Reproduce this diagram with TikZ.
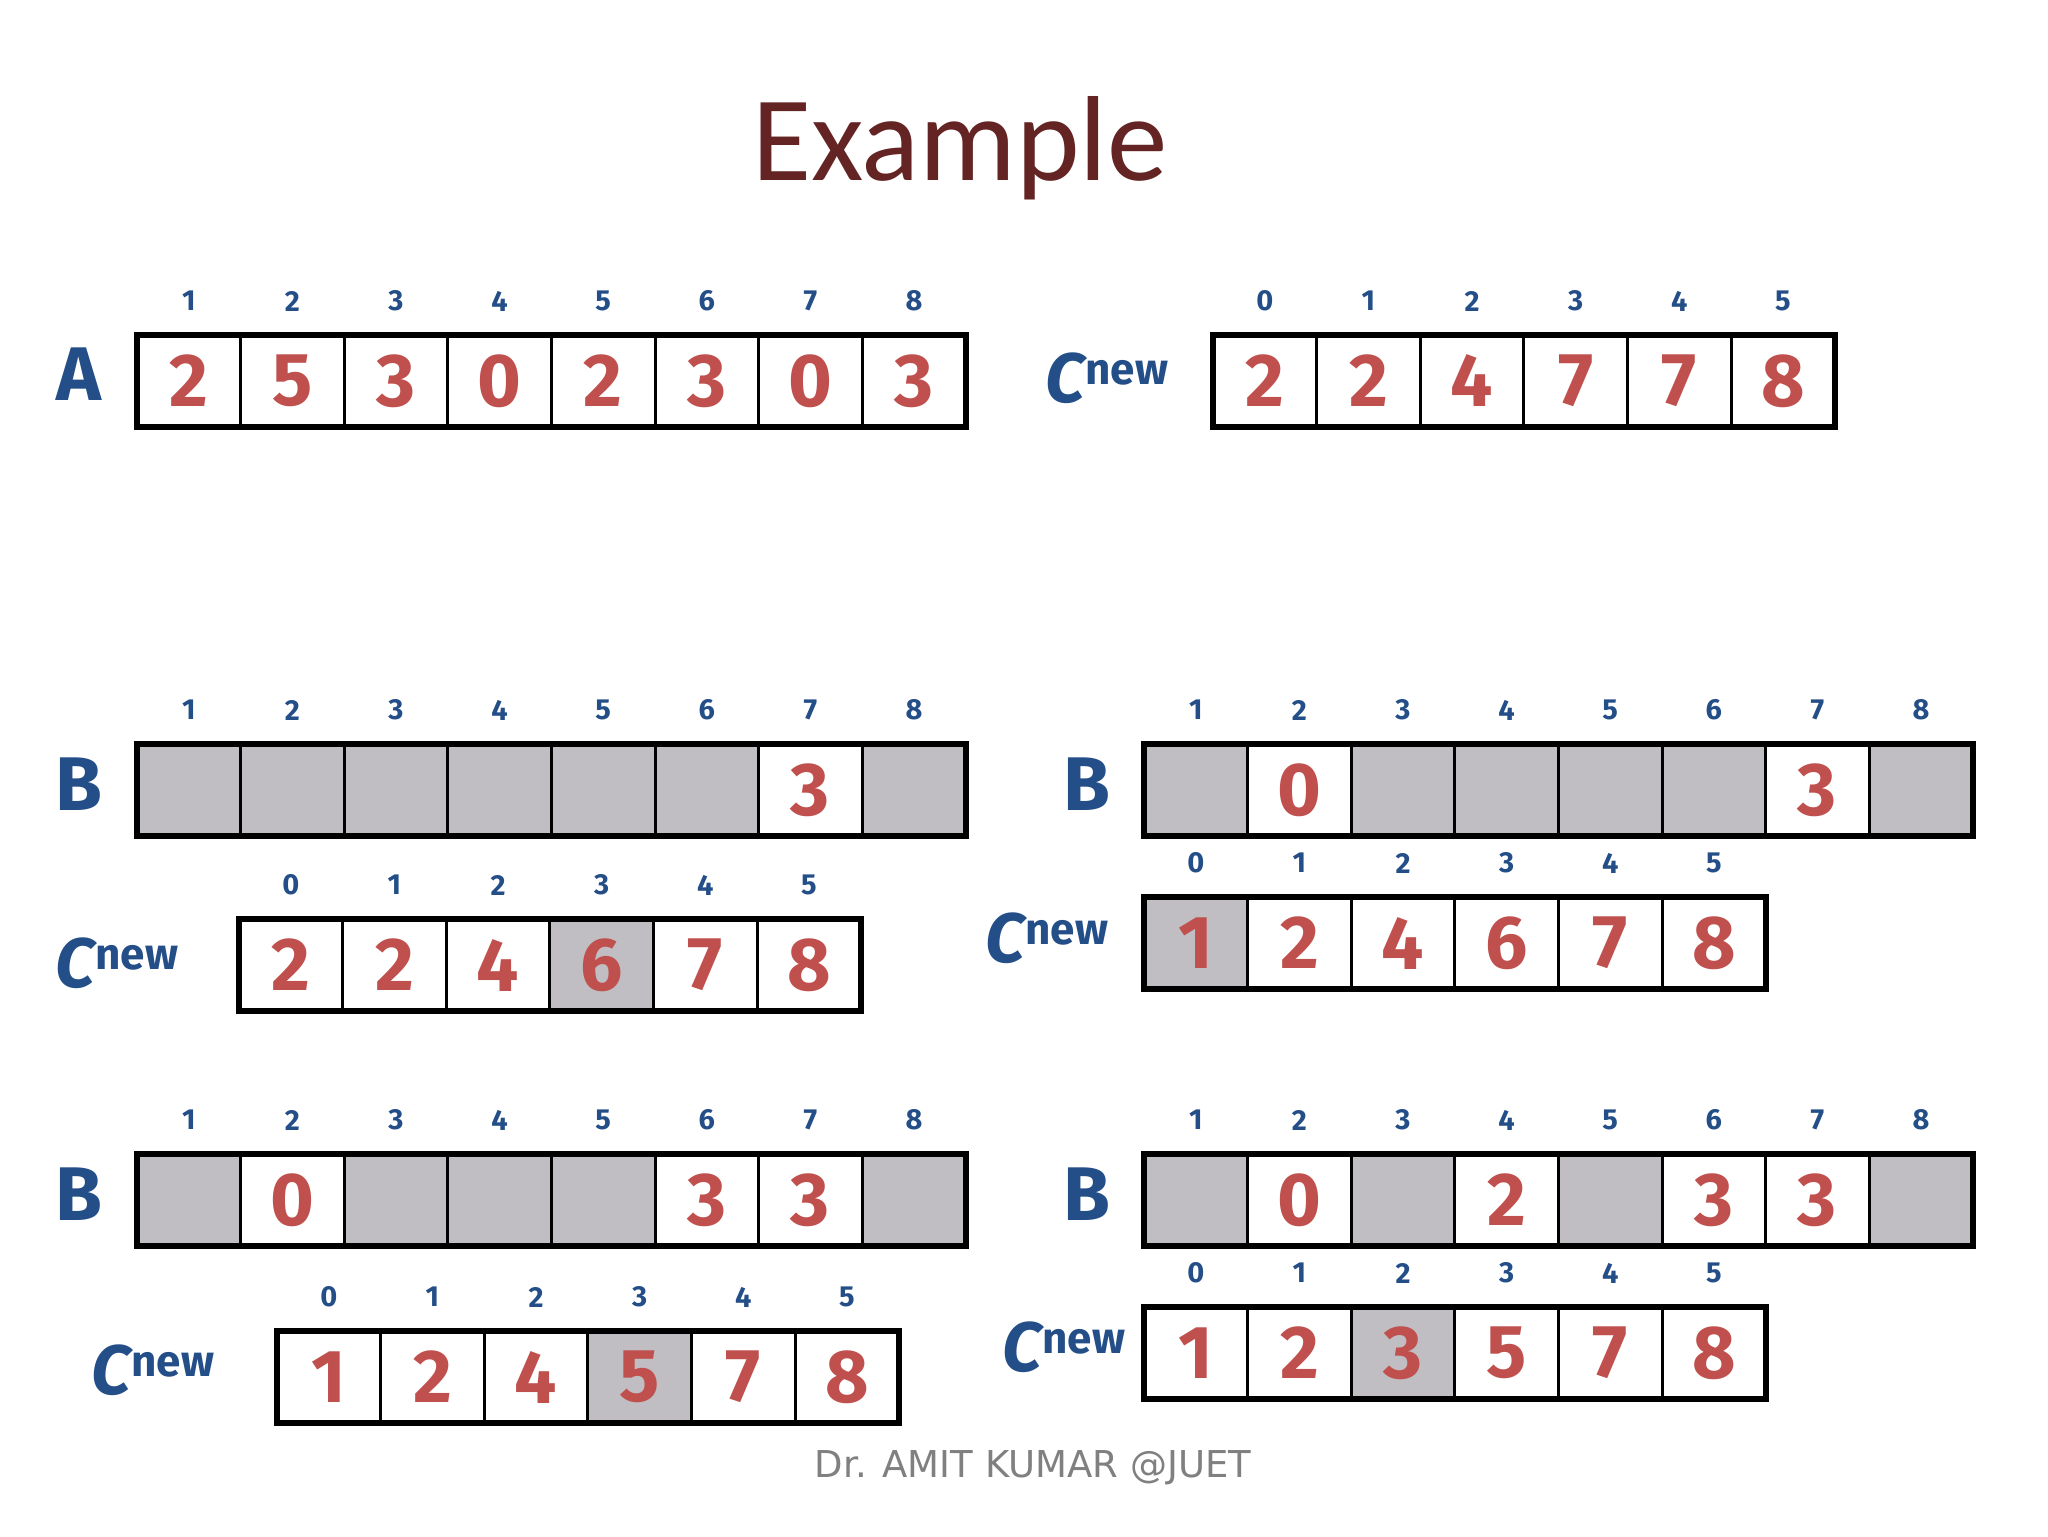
\documentclass[tikz,border=0pt]{standalone}
\usepackage{fontspec}
\setmainfont{Carlito}
\newfontfamily\comic{Fira Sans}
\newfontfamily\footfont{DejaVu Sans}
\definecolor{titlered}{RGB}{99,36,35}
\definecolor{labblue}{RGB}{35,78,135}
\definecolor{digred}{RGB}{192,80,77}
\definecolor{cellgray}{RGB}{192,190,194}
\definecolor{footgray}{RGB}{128,128,128}
\newcommand{\cellE}{}
\tikzset{
  cellbox/.style={draw=black, line width=1.5pt, minimum width=51.8pt, minimum height=46pt,
    inner sep=0pt, outer sep=0pt, text=digred, font=\comic\bfseries\fontsize{37.5}{40}\selectfont},
  w/.style={fill=white},
  g/.style={fill=cellgray},
  idx/.style={text=labblue, inner sep=0pt, font=\comic\bfseries\fontsize{14.5}{16}\selectfont},
  outerbox/.style={draw=black, line width=3pt},
  arrlabel/.style={text=labblue, inner sep=0pt, anchor=base, font=\comic\bfseries\fontsize{38}{40}\selectfont},
  cnlabel/.style={text=labblue, inner sep=0pt, anchor=base, font=\comic\bfseries\fontsize{35}{38}\selectfont},
  titletext/.style={text=titlered, inner sep=0pt, anchor=base, font=\fontsize{60.5}{66}\selectfont},
  foottext/.style={text=footgray, inner sep=0pt, anchor=base, font=\footfont\fontsize{18.5}{21}\selectfont},
}
% #1 name, #2 left x, #3 top y, #4 first index, #5 number of cells, #6 list value/style
\newcommand{\mkarray}[6]{%
  \foreach \v/\s [count=\i] in {#6} {%
    \pgfmathsetmacro\cx{#2+51.8+103.6*(\i-1)}%
    \pgfmathtruncatemacro\ix{#4+\i-1}%
    \node[cellbox,\s] (#1-\i) at (\cx,{#3+46}) {\v};
    \node[idx] (#1-n\i) at (\cx,{#3-34}) {\ix};
  }
  \draw[outerbox] (#1-1.north west) rectangle (#1-#5.south east);
}
\newcommand{\cnewtext}{{\itshape C}{\fontsize{22}{24}\selectfont\raisebox{9pt}{new}}}
\begin{document}
\begin{tikzpicture}[x=0.5pt,y=-0.5pt]
\fill[white] (0,0) rectangle (2048,1536);
\useasboundingbox (0,0) rectangle (2048,1536);

\node[titletext] (title) at (960,180) {Example};

% row 1
\node[arrlabel] (labA) at (79,400) {A};
\mkarray{A}{137}{335}{1}{8}{2/w,5/w,3/w,0/w,2/w,3/w,0/w,3/w}
\node[cnlabel] (labC1) at (1107,402) {\cnewtext};
\mkarray{C1}{1213}{335}{0}{6}{2/w,2/w,4/w,7/w,7/w,8/w}

% row 2 left
\node[arrlabel] (labB2) at (79,810) {B};
\mkarray{B2}{137}{744}{1}{8}{\cellE/g,\cellE/g,\cellE/g,\cellE/g,\cellE/g,\cellE/g,3/w,\cellE/g}
\node[cnlabel] (labC2) at (117,987) {\cnewtext};
\mkarray{C2}{239}{919}{0}{6}{2/w,2/w,4/w,6/g,7/w,8/w}

% row 2 right
\node[arrlabel] (labB3) at (1087,810) {B};
\mkarray{B3}{1144}{744}{1}{8}{\cellE/g,0/w,\cellE/g,\cellE/g,\cellE/g,\cellE/g,3/w,\cellE/g}
\node[cnlabel] (labC3) at (1047,962) {\cnewtext};
\mkarray{C3}{1144}{897}{0}{6}{1/g,2/w,4/w,6/w,7/w,8/w}

% row 3 left
\node[arrlabel] (labB4) at (79,1220) {B};
\mkarray{B4}{137}{1154}{1}{8}{\cellE/g,0/w,\cellE/g,\cellE/g,\cellE/g,3/w,3/w,\cellE/g}
\node[cnlabel] (labC4) at (153,1394) {\cnewtext};
\mkarray{C4}{277}{1331}{0}{6}{1/w,2/w,4/w,5/g,7/w,8/w}

% row 3 right
\node[arrlabel] (labB5) at (1087,1220) {B};
\mkarray{B5}{1144}{1154}{1}{8}{\cellE/g,0/w,\cellE/g,2/w,\cellE/g,3/w,3/w,\cellE/g}
\node[cnlabel] (labC5) at (1064,1371) {\cnewtext};
\mkarray{C5}{1144}{1307}{0}{6}{1/w,2/w,3/g,5/w,7/w,8/w}

\node[foottext] (foot) at (1033,1477) {Dr. AMIT KUMAR @JUET};
\end{tikzpicture}
\end{document}
